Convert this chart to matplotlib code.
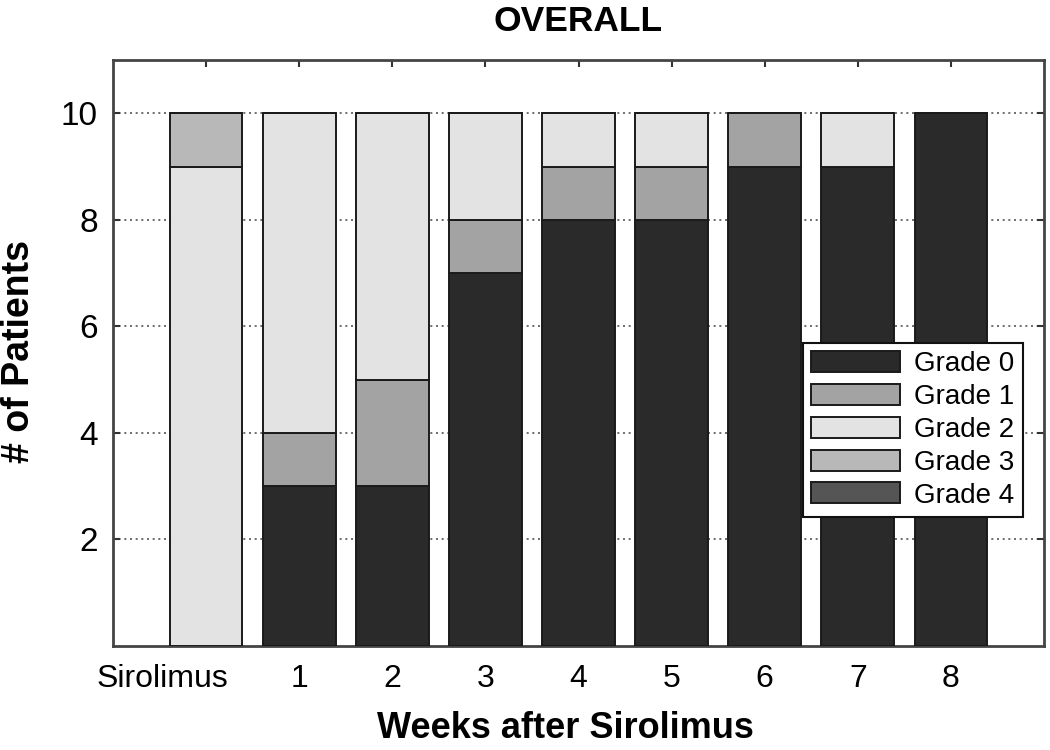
import matplotlib
matplotlib.use("Agg")
import matplotlib.pyplot as plt
import matplotlib.transforms as mtransforms
import numpy as np

plt.rcParams['font.family'] = ['Liberation Sans', 'DejaVu Sans']

categories = ["Sirolimus", "1", "2", "3", "4", "5", "6", "7", "8"]
grade0 = [0, 3, 3, 7, 8, 8, 9, 9, 10]
grade1 = [0, 1, 2, 1, 1, 1, 1, 0, 0]
grade2 = [9, 6, 5, 2, 1, 1, 0, 1, 0]
grade3 = [1, 0, 0, 0, 0, 0, 0, 0, 0]
grade4 = [0, 0, 0, 0, 0, 0, 0, 0, 0]
series = [grade0, grade1, grade2, grade3, grade4]
labels = ["Grade 0", "Grade 1", "Grade 2", "Grade 3", "Grade 4"]
colors = ["#2a2a2a", "#a3a3a3", "#e3e3e3", "#b8b8b8", "#555555"]
yticks = [2, 4, 6, 8, 10]

fig = plt.figure(figsize=(10.5, 7.5), dpi=100)
ax = fig.add_axes([113/1050, 1-646/750, (1044-113)/1050, (646-60)/750])

x = np.arange(len(categories))
bottom = np.zeros(len(categories))
for vals, lab, col in zip(series, labels, colors):
    ax.bar(x, vals, width=0.78, bottom=bottom, color=col, edgecolor="#1a1a1a",
           linewidth=1.4, label=lab, zorder=3)
    bottom += np.array(vals)

ax.set_xlim(-1, 9)
ax.set_ylim(0, 11)
ax.set_xticks(x)
ax.set_xticklabels(categories, fontsize=23)
ax.set_yticks(yticks)
ax.set_yticklabels([str(v) for v in yticks], fontsize=24)
ax.tick_params(axis='both', direction='in', length=5, width=1.5, color='#333333',
               top=True, right=True)
ax.tick_params(axis='x', pad=13)
ax.tick_params(axis='y', pad=11)
ax.yaxis.grid(True, linestyle=(0, (1.2, 2.2)), color='#555555', linewidth=1.2, zorder=0)
ax.set_axisbelow(True)
for s in ax.spines.values():
    s.set_linewidth(2)
    s.set_color('#444444')

# shift the "Sirolimus" label slightly left as in the reference
lbl = ax.get_xticklabels()[0]
lbl.set_transform(lbl.get_transform() + mtransforms.ScaledTranslation(-44/100, 0, fig.dpi_scale_trans))

ax.set_title("OVERALL", fontsize=25.5, fontweight='bold', pad=21)
ax.set_xlabel("Weeks after Sirolimus", fontsize=26, fontweight='bold')
ax.xaxis.set_label_coords((565-113)/931, -(728-646)/586)
ax.xaxis.label.set_va('center')
ax.set_ylabel("# of Patients", fontsize=27, fontweight='bold')
ax.yaxis.set_label_coords((19-113)/931, (646-352)/586)
ax.yaxis.label.set_va('center')

leg = ax.legend(loc='upper left', bbox_to_anchor=((803-113)/931, (646-343)/586),
                fontsize=20, frameon=True, fancybox=False, framealpha=1,
                edgecolor='#111111', handlelength=3.2, handleheight=0.78,
                labelspacing=0.24, handletextpad=0.5, borderpad=0.3, borderaxespad=0)
leg.get_frame().set_linewidth(1.5)
leg.set_zorder(5)

fig.savefig("out.png", dpi=100)
